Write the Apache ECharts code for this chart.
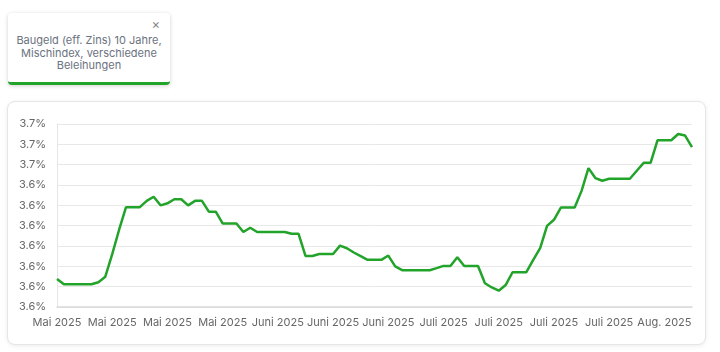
<!DOCTYPE html>
<html lang="de">
<head>
<meta charset="utf-8" />
<title>Baugeld 10 Jahre</title>
<script src="https://cdn.jsdelivr.net/npm/echarts@6/dist/echarts.min.js"></script>
<style>
    html, body { margin: 0; padding: 0; background: #fff; font-family: Inter, "Noto Sans", sans-serif; }
    #legendBox {
        position: absolute; left: 8px; top: 13px; width: 162px; height: 72px;
        background: #fff; border-radius: 4px; box-sizing: border-box;
        box-shadow: 0 1px 4px rgba(0,0,0,0.18); border-bottom: 3px solid #22a32a;
        color: #6b7280; font-size: 11px; line-height: 12.5px; text-align: center;
        padding-top: 21px;
    }
    #legendBox .close { position: absolute; right: 10px; top: 5px; font-size: 13px; color: #888; }
    #chartBox {
        position: absolute; left: 7px; top: 101px; width: 699px; height: 244px;
        background: #fff; border-radius: 8px; box-sizing: border-box;
        border: 1px solid #e6e6e6; box-shadow: 0 1px 4px rgba(0,0,0,0.08);
    }
    #chartmain { position: absolute; left: 0; top: 0; width: 720px; height: 352px; }
</style>
</head>
<body>
<div id="legendBox"><span class="close">×</span>Baugeld (eff. Zins) 10 Jahre,<br>Mischindex, verschiedene<br>Beleihungen</div>
<div id="chartBox"></div>
<div id="chartmain"></div>
<script>
    // Monatsnamen der Kategorien (Anzahl Punkte je Monat)
    var monthNames = ['Mai 2025', 'Juni 2025', 'Juli 2025', 'Aug. 2025'];
    var monthCounts = [30, 24, 32, 7];

    var zinsWerte = [
        3.5938, 3.5912, 3.5912, 3.5912, 3.5912, 3.5912, 3.5922, 3.5949, 3.6060, 3.6180,
        3.6291, 3.6291, 3.6291, 3.6322, 3.6342, 3.6300, 3.6310, 3.6330, 3.6330, 3.6300,
        3.6322, 3.6322, 3.6269, 3.6269, 3.6211, 3.6211, 3.6211, 3.6169, 3.6190, 3.6169,
        3.6169, 3.6169, 3.6169, 3.6169, 3.6160, 3.6160, 3.6051, 3.6051, 3.6061, 3.6061,
        3.6061, 3.6102, 3.6089, 3.6068, 3.6050, 3.6032, 3.6032, 3.6032, 3.6053, 3.6000,
        3.5981, 3.5981, 3.5981, 3.5981, 3.5981, 3.5991, 3.6002, 3.6002, 3.6045, 3.6002,
        3.6002, 3.6002, 3.5917, 3.5896, 3.5880, 3.5908, 3.5971, 3.5971, 3.5971, 3.6032,
        3.6090, 3.6199, 3.6229, 3.6289, 3.6289, 3.6289, 3.6371, 3.6483, 3.6434, 3.6421,
        3.6431, 3.6431, 3.6431, 3.6431, 3.6470, 3.6509, 3.6509, 3.6620, 3.6620, 3.6620,
        3.6651, 3.6643, 3.6586
    ];

    // Y-Achse
    var yMin = 3.58, yMax = 3.67, yStep = 0.01;
    var yLabels = ['3.6%', '3.6%', '3.6%', '3.6%', '3.6%', '3.6%', '3.6%', '3.7%', '3.7%', '3.7%'];

    var kategorien = [];
    for (var m in monthNames) {
        for (var k = 0; k < monthCounts[m]; k++) { kategorien.push(monthNames[m]); }
    }

    var chart = echarts.init(document.getElementById('chartmain'));
    chart.setOption({
        animation: false,
        grid: { left: 57, right: 28, top: 124, bottom: 45 },
        tooltip: { trigger: 'axis' },
        xAxis: {
            type: 'category', data: kategorien, boundaryGap: false,
            axisLine: { lineStyle: { color: '#d9d9d9', width: 1.5 } },
            axisTick: { show: false },
            axisLabel: { interval: 7, color: '#666', fontSize: 11, fontFamily: 'Inter', margin: 10 }
        },
        yAxis: {
            type: 'value', min: yMin, max: yMax, interval: yStep,
            axisLine: { show: true, lineStyle: { color: '#e6e6e6' } },
            splitLine: { lineStyle: { color: '#e8e8e8' } },
            axisLabel: {
                color: '#666', fontSize: 11, fontFamily: 'Inter', margin: 11,
                formatter: function (v) { return yLabels[Math.round((v - yMin) / yStep)]; }
            }
        },
        series: [{
            name: 'Baugeld (eff. Zins) 10 Jahre, Mischindex, verschiedene Beleihungen',
            type: 'line', data: zinsWerte, showSymbol: false,
            lineStyle: { color: '#22a32a', width: 2.5 }, itemStyle: { color: '#22a32a' }
        }]
    });
</script>
</body>
</html>
